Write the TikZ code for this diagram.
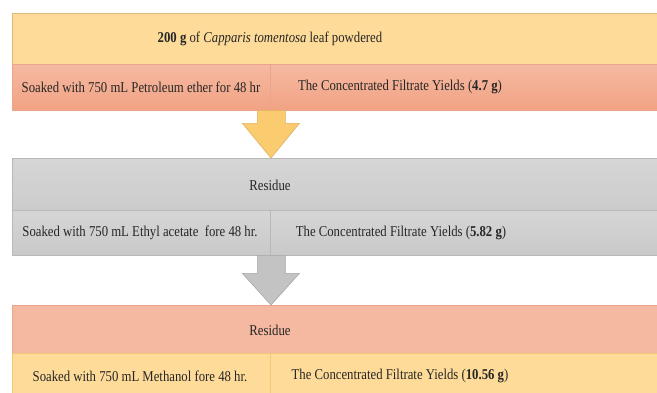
\documentclass[tikz,border=0pt]{standalone}
\usepackage{fontspec}
\setmainfont[FakeStretch=0.85]{Liberation Serif}
\usetikzlibrary{calc}
\definecolor{yel}{HTML}{FEDB98}
\definecolor{yelB}{HTML}{F3C879}
\definecolor{salT}{HTML}{F5B9A2}
\definecolor{salB}{HTML}{F2A283}
\definecolor{salE}{HTML}{E9A68A}
\definecolor{gryT}{HTML}{D6D6D6}
\definecolor{gryB}{HTML}{C9C9C9}
\definecolor{gryE}{HTML}{B8B8B8}
\definecolor{arY}{HTML}{FBCB70}
\definecolor{arYE}{HTML}{E2B062}
\definecolor{arG}{HTML}{C3C3C3}
\definecolor{arGE}{HTML}{A8A8A8}
\begin{document}
\begin{tikzpicture}[x=1pt,y=-1pt,
  cell/.style={rectangle,inner sep=0pt,anchor=north west},
  txt/.style={inner sep=0pt,font=\fontsize{15}{17}\selectfont,text=black!85},
  flowarrow/.style={line width=0.6pt}
]
\useasboundingbox (0,0) rectangle (657,392);
\fill[white] (0,0) rectangle (657,392);
% Box 1
\node[cell,minimum width=645pt,minimum height=51pt,fill=yel,draw=yelB!80!gray] (b1t) at (12,13) {};
\node[cell,minimum width=258pt,minimum height=46pt,top color=salT,bottom color=salB,draw=salE] (b1l) at (12,64) {};
\node[cell,minimum width=387pt,minimum height=46pt,top color=salT,bottom color=salB,draw=salE] (b1r) at (270,64) {};
% Box 2
\node[cell,minimum width=645pt,minimum height=52pt,top color=gryT,bottom color=gryB!95,draw=gryE] (b2t) at (12,158) {};
\node[cell,minimum width=258pt,minimum height=45pt,top color=gryT,bottom color=gryB,draw=gryE] (b2l) at (12,210) {};
\node[cell,minimum width=387pt,minimum height=45pt,top color=gryT,bottom color=gryB,draw=gryE] (b2r) at (270,210) {};
% Box 3
\node[cell,minimum width=645pt,minimum height=48pt,fill=salT!95!salB,draw=salE] (b3t) at (12,305) {};
\node[cell,minimum width=258pt,minimum height=45pt,fill=yel,draw=yelB] (b3l) at (12,353) {};
\node[cell,minimum width=387pt,minimum height=45pt,fill=yel,draw=yelB] (b3r) at (270,353) {};
% Texts
\node[txt] (t1) at (270,39) {\textbf{200 g} of \textit{Capparis tomentosa} leaf powdered};
\node[txt] (t2) at (141,87) {Soaked with 750 mL Petroleum ether for 48 hr};
\node[txt] (t3) at (400,87) {The Concentrated Filtrate Yields (\textbf{4.7 g})};
\node[txt] (t4) at (270,185) {Residue};
\node[txt] (t5) at (140,233) {Soaked with 750 mL Ethyl acetate\ \ fore 48 hr.};
\node[txt] (t6) at (401,233) {The Concentrated Filtrate Yields (\textbf{5.82 g})};
\node[txt] (t7) at (270,330) {Residue};
\node[txt] (t8) at (140,376) {Soaked with 750 mL Methanol fore 48 hr.};
\node[txt] (t9) at (400,376) {The Concentrated Filtrate Yields (\textbf{10.56 g})};
% Arrows
\draw[flowarrow,fill=arY,draw=arYE]
  ($(b1l.south east)+(-13,0)$) -- ($(b1l.south east)+(15,0)$) -- ($(b1l.south east)+(15,13)$)
  -- ($(b1l.south east)+(29,13)$) -- ($(b2t.north west)+(259,0)$) -- ($(b1l.south east)+(-28,13)$)
  -- ($(b1l.south east)+(-13,13)$) -- cycle;
\draw[flowarrow,fill=arG,draw=arGE]
  ($(b2l.south east)+(-13,0)$) -- ($(b2l.south east)+(15,0)$) -- ($(b2l.south east)+(15,18)$)
  -- ($(b2l.south east)+(29,18)$) -- ($(b3t.north west)+(259,0)$) -- ($(b2l.south east)+(-28,18)$)
  -- ($(b2l.south east)+(-13,18)$) -- cycle;
\end{tikzpicture}
\end{document}
